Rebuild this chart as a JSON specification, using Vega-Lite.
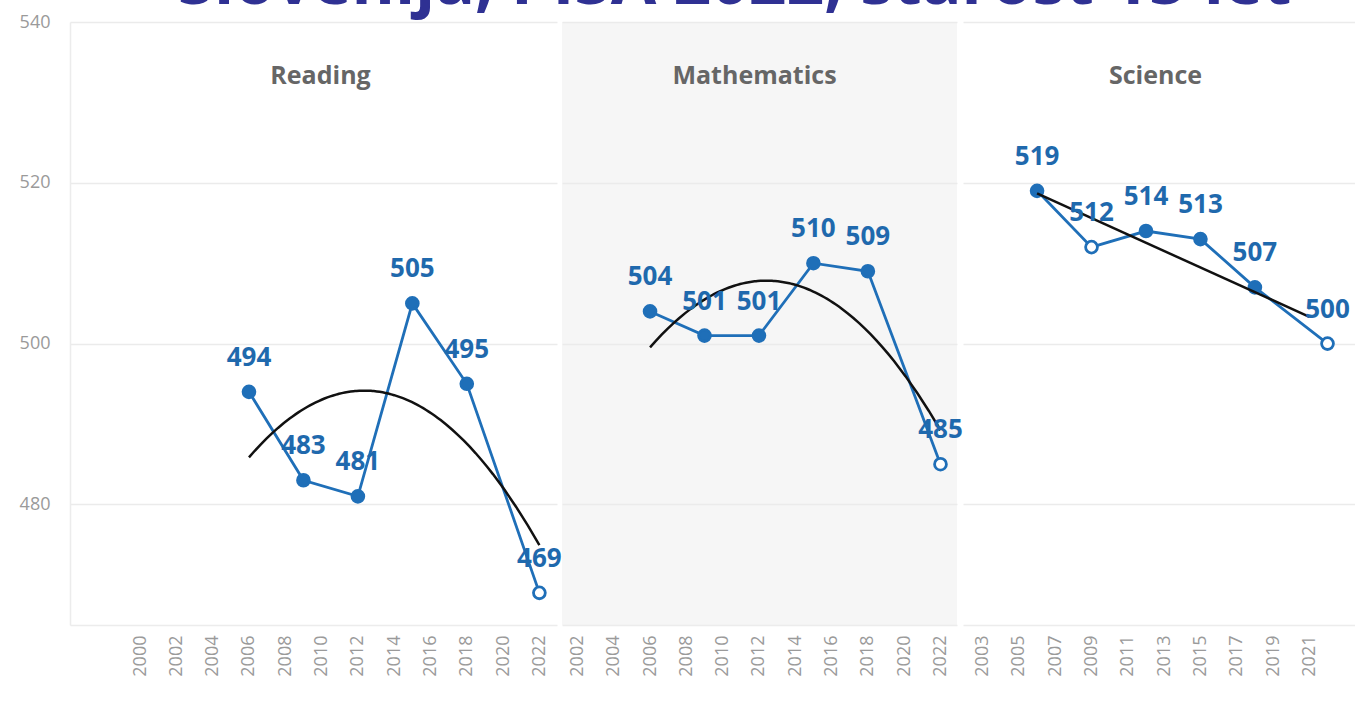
{
  "$schema": "https://vega.github.io/schema/vega-lite/v6.json",
  "autosize": {"type": "none"},
  "padding": {"left": 70, "top": 22, "right": 1285, "bottom": 688},
  "background": "white",
  "title": {
    "text": "Slovenija, PISA 2022, starost 15 let",
    "font": "Open Sans",
    "fontSize": 66,
    "fontWeight": "bold",
    "color": "#2f3193",
    "anchor": "middle",
    "baseline": "alphabetic",
    "offset": 0,
    "dy": 57,
    "dx": 42
  },
  "datasets": {
    "pisa": [
      {"subject": "Reading", "year": 2006, "score": 494, "flag": false},
      {"subject": "Reading", "year": 2009, "score": 483, "flag": false},
      {"subject": "Reading", "year": 2012, "score": 481, "flag": false},
      {"subject": "Reading", "year": 2015, "score": 505, "flag": false},
      {"subject": "Reading", "year": 2018, "score": 495, "flag": false},
      {"subject": "Reading", "year": 2022, "score": 469, "flag": true},
      {"subject": "Mathematics", "year": 2006, "score": 504, "flag": false},
      {"subject": "Mathematics", "year": 2009, "score": 501, "flag": false},
      {"subject": "Mathematics", "year": 2012, "score": 501, "flag": false},
      {"subject": "Mathematics", "year": 2015, "score": 510, "flag": false},
      {"subject": "Mathematics", "year": 2018, "score": 509, "flag": false},
      {"subject": "Mathematics", "year": 2022, "score": 485, "flag": true},
      {"subject": "Science", "year": 2006, "score": 519, "flag": false},
      {"subject": "Science", "year": 2009, "score": 512, "flag": true},
      {"subject": "Science", "year": 2012, "score": 514, "flag": false},
      {"subject": "Science", "year": 2015, "score": 513, "flag": false},
      {"subject": "Science", "year": 2018, "score": 507, "flag": false},
      {"subject": "Science", "year": 2022, "score": 500, "flag": true}
    ]
  },
  "spacing": 0,
  "config": {
    "view": {"stroke": null},
    "font": "Open Sans",
    "axis": {
      "labelFont": "Open Sans",
      "labelColor": "#9a9a9a",
      "labelFontSize": 18,
      "ticks": false,
      "gridColor": "#ebebeb",
      "gridWidth": 1.5,
      "domainColor": "#ececec",
      "domainWidth": 1.5,
      "title": null
    }
  },
  "hconcat": [
    {
      "width": 487,
      "height": 603,
      "title": {"text": "Reading", "frame": "group", "offset": -76, "dx": 7, "fontSize": 25, "fontWeight": "bold", "color": "#666666", "font": "Open Sans", "anchor": "middle"},
      "data": {"name": "pisa"},
      "transform": [{"filter": "datum.subject === 'Reading'"}],
      "encoding": {
        "x": {"field": "year", "type": "quantitative", "scale": {"domain": [1996.14, 2022.97], "nice": false, "zero": false},
              "axis": {"values": [2000, 2002, 2004, 2006, 2008, 2010, 2012, 2014, 2016, 2018, 2020, 2022], "format": "d", "labelAngle": -90, "labelPadding": 10, "grid": false}},
        "y": {"field": "score", "type": "quantitative", "scale": {"domain": [465, 540], "nice": false, "zero": false},
              "axis": {"values": [480, 500, 520, 540], "labelPadding": 20, "grid": true, "domain": true}}
      },
      "layer": [
        {"mark": {"type": "line", "color": "#1f6fb8", "strokeWidth": 2.8}},
        {"mark": {"type": "point", "filled": true, "size": 140, "stroke": "#1f6fb8", "strokeWidth": 2.8, "opacity": 1},
         "encoding": {"fill": {"condition": {"test": "datum.flag", "value": "white"}, "value": "#1f6fb8"}}},
        {"transform": [{"regression": "score", "on": "year", "method": "poly", "order": 2}],
         "mark": {"type": "line", "color": "#111111", "strokeWidth": 2.5}},
        {"mark": {"type": "text", "dy": -34, "fontSize": 26, "fontWeight": "bold", "color": "#1f69ad", "font": "Open Sans"},
         "encoding": {"text": {"field": "score", "type": "quantitative", "format": "d"}}}
      ]
    },
    {
      "width": 395,
      "height": 603,
      "view": {"fill": "#f6f6f6", "stroke": null},
      "title": {"text": "Mathematics", "frame": "group", "offset": -67, "dx": -5, "fontSize": 25, "fontWeight": "bold", "color": "#666666", "font": "Open Sans", "anchor": "middle"},
      "data": {"name": "pisa"},
      "transform": [{"filter": "datum.subject === 'Mathematics'"}],
      "encoding": {
        "x": {"field": "year", "type": "quantitative", "scale": {"domain": [2001.15, 2022.91], "nice": false, "zero": false},
              "axis": {"values": [2002, 2004, 2006, 2008, 2010, 2012, 2014, 2016, 2018, 2020, 2022], "format": "d", "labelAngle": -90, "labelPadding": 10, "grid": false}},
        "y": {"field": "score", "type": "quantitative", "scale": {"domain": [465, 540], "nice": false, "zero": false},
              "axis": {"values": [480, 500, 520, 540], "labels": false, "grid": true, "domain": false}}
      },
      "layer": [
        {"mark": {"type": "line", "color": "#1f6fb8", "strokeWidth": 2.8}},
        {"mark": {"type": "point", "filled": true, "size": 140, "stroke": "#1f6fb8", "strokeWidth": 2.8, "opacity": 1},
         "encoding": {"fill": {"condition": {"test": "datum.flag", "value": "white"}, "value": "#1f6fb8"}}},
        {"transform": [{"regression": "score", "on": "year", "method": "poly", "order": 2}],
         "mark": {"type": "line", "color": "#111111", "strokeWidth": 2.5}},
        {"mark": {"type": "text", "dy": -34, "fontSize": 26, "fontWeight": "bold", "color": "#1f69ad", "font": "Open Sans"},
         "encoding": {"text": {"field": "score", "type": "quantitative", "format": "d"}}}
      ]
    },
    {
      "width": 403,
      "height": 603,
      "title": {"text": "Science", "frame": "group", "offset": -67, "dx": -9, "fontSize": 25, "fontWeight": "bold", "color": "#666666", "font": "Open Sans", "anchor": "middle"},
      "data": {"name": "pisa"},
      "transform": [{"filter": "datum.subject === 'Science'"}],
      "encoding": {
        "x": {"field": "year", "type": "quantitative", "scale": {"domain": [2001.92, 2024.12], "nice": false, "zero": false},
              "axis": {"values": [2003, 2005, 2007, 2009, 2011, 2013, 2015, 2017, 2019, 2021], "format": "d", "labelAngle": -90, "labelPadding": 10, "grid": false}},
        "y": {"field": "score", "type": "quantitative", "scale": {"domain": [465, 540], "nice": false, "zero": false},
              "axis": {"values": [480, 500, 520, 540], "labels": false, "grid": true, "domain": false}}
      },
      "layer": [
        {"mark": {"type": "line", "color": "#1f6fb8", "strokeWidth": 2.8}},
        {"mark": {"type": "point", "filled": true, "size": 140, "stroke": "#1f6fb8", "strokeWidth": 2.8, "opacity": 1},
         "encoding": {"fill": {"condition": {"test": "datum.flag", "value": "white"}, "value": "#1f6fb8"}}},
        {"transform": [{"regression": "score", "on": "year", "method": "linear", "extent": [2006, 2021]}],
         "mark": {"type": "line", "color": "#111111", "strokeWidth": 2.5}},
        {"mark": {"type": "text", "dy": -34, "fontSize": 26, "fontWeight": "bold", "color": "#1f69ad", "font": "Open Sans"},
         "encoding": {"text": {"field": "score", "type": "quantitative", "format": "d"}}}
      ]
    }
  ]
}
